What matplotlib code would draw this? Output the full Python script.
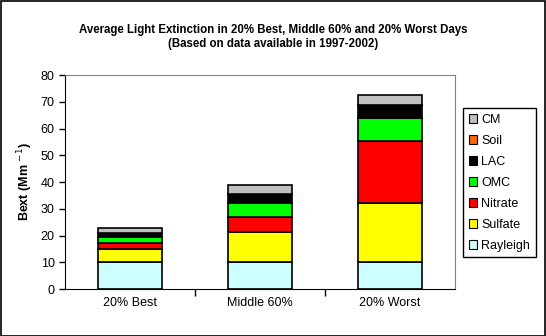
import matplotlib

matplotlib.use("Agg")
import matplotlib.pyplot as plt
from matplotlib.patches import Patch
import numpy as np

categories = ["20% Best", "Middle 60%", "20% Worst"]
species = ["Rayleigh", "Sulfate", "Nitrate", "OMC", "LAC", "Soil", "CM"]
rayleigh = [10.2, 10.2, 10.2]
sulfate = [4.8, 11.1, 22.1]
nitrate = [2.2, 5.7, 23.1]
omc = [2.1, 5.3, 8.6]
lac = [1.6, 2.8, 4.4]
soil = [0.2, 0.3, 0.2]
cm = [1.8, 3.4, 4.0]
colors = ["#ccffff", "#ffff00", "#ff0000", "#00ff00", "#000000", "#ff6600", "#c0c0c0"]

plt.rcParams.update({"font.family": ["Liberation Sans", "DejaVu Sans"], "font.size": 9})

fig = plt.figure(figsize=(5.46, 3.36), dpi=100)
fig.patches.append(plt.Rectangle((0.001, 0.001), 0.997, 0.996, transform=fig.transFigure,
                                 fill=False, edgecolor="black", linewidth=1.2))
ax = fig.add_axes([65 / 546, 1 - 289 / 336, 390 / 546, 214 / 336])

x = np.arange(len(categories))
bottom = np.zeros(len(categories))
for name, values, color in zip(species, [rayleigh, sulfate, nitrate, omc, lac, soil, cm], colors):
    ax.bar(x, values, bottom=bottom, width=0.49, color=color, edgecolor="black", linewidth=1.2, label=name)
    bottom += np.array(values)

ax.set_xlim(-0.5, 2.5)
ax.set_ylim(0, 80)
ax.set_yticks(np.arange(0, 81, 10))
ax.set_xticks(x, categories)
ax.set_xticks([0.5, 1.5], minor=True)
ax.tick_params(axis="x", which="major", length=0, pad=6)
ax.tick_params(axis="x", which="minor", length=5, width=1, direction="out")
ax.tick_params(axis="y", length=4, width=1, direction="out")
ax.spines["left"].set_color("black")
ax.spines["bottom"].set_color("black")
ax.spines["top"].set_color("#808080")
ax.spines["right"].set_color("#808080")
ax.set_ylabel("Bext (Mm $^{-1}$)", fontweight="bold", fontsize=9)

fig.suptitle("Average Light Extinction in 20% Best, Middle 60% and 20% Worst Days\n(Based on data available in 1997-2002)",
             x=0.5, y=0.93, fontsize=8.3, fontweight="bold", linespacing=1.3)

handles = [Patch(facecolor=c, edgecolor="black", linewidth=0.8, label=n) for n, c in zip(species, colors)][::-1]
leg = fig.legend(handles=handles, loc="upper left", bbox_to_anchor=(463 / 546, 1 - 108 / 336),
                 frameon=True, fancybox=False, edgecolor="black", framealpha=1,
                 handlelength=0.7, handleheight=0.7, handletextpad=0.3, labelspacing=0.72,
                 borderpad=0.45, fontsize=9, borderaxespad=0)
leg.get_frame().set_linewidth(1.0)

fig.savefig("out.png", dpi=100)
